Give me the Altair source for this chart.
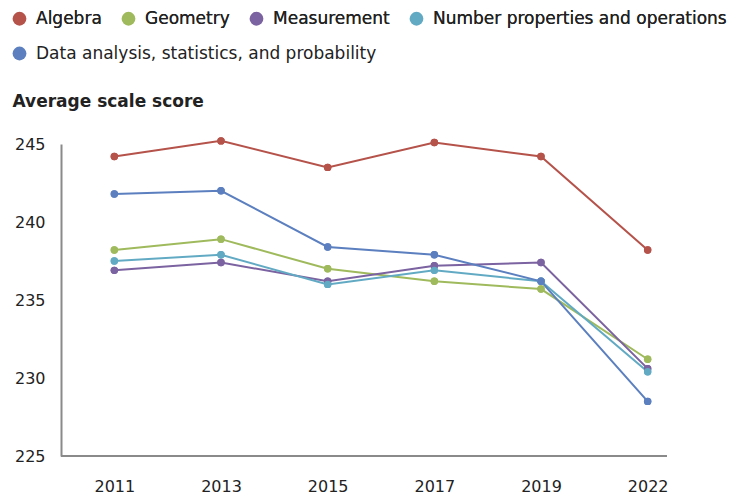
import altair as alt
import pandas as pd

years = ["2011", "2013", "2015", "2017", "2019", "2022"]
series_names = [
    "Algebra",
    "Geometry",
    "Measurement",
    "Number properties and operations",
    "Data analysis, statistics, and probability",
]
colors = ["#b5524a", "#9fba5c", "#7b62a0", "#62aac4", "#5b7fbf"]

algebra = [244.2, 245.2, 243.5, 245.1, 244.2, 238.2]
geometry = [238.2, 238.9, 237.0, 236.2, 235.7, 231.2]
measurement = [236.9, 237.4, 236.2, 237.2, 237.4, 230.6]
number_ops = [237.5, 237.9, 236.0, 236.9, 236.2, 230.4]
data_analysis = [241.8, 242.0, 238.4, 237.9, 236.2, 228.5]

all_values = [algebra, geometry, measurement, number_ops, data_analysis]
rows = []
for name, vals in zip(series_names, all_values):
    for yr, v in zip(years, vals):
        rows.append({"year": yr, "series": name, "series2": name, "score": v})
df = pd.DataFrame(rows)

FONT = "DejaVu Sans"
TXT = "#222222"

legend_common = dict(title=None, orient="none", direction="horizontal",
                     symbolType="circle", symbolSize=190,
                     symbolOpacity=1, symbolStrokeWidth=0,
                     labelFontSize=17, labelColor=TXT, labelFont=FONT,
                     labelOffset=8, columnPadding=18, labelLimit=400)

x = alt.X("year:O", sort=years, scale=alt.Scale(type="point", padding=0.5),
          axis=alt.Axis(title=None, domain=False, ticks=False, labelAngle=0,
                        labelFontSize=16, labelColor=TXT, labelFont=FONT,
                        labelPadding=22))
y = alt.Y("score:Q", scale=alt.Scale(domain=[225, 245], nice=False, zero=False),
          axis=alt.Axis(values=[225, 230, 235, 240, 245], grid=False, ticks=False,
                        domainColor="#8a8a8a", domainWidth=2,
                        labelFontSize=16, labelColor=TXT, labelFont=FONT,
                        labelPadding=16,
                        title="Average scale score", titleAngle=0, titleAlign="left",
                        titleBaseline="middle", titleX=-49, titleY=-43,
                        titleFontSize=17, titleFontWeight="bold", titleColor=TXT,
                        titleFont=FONT))
color = alt.Color("series:N", sort=series_names,
                  scale=alt.Scale(domain=series_names, range=colors),
                  legend=alt.Legend(values=series_names[:4], legendX=-50, legendY=-134,
                                    **legend_common))
fill2 = alt.Fill("series2:N", sort=series_names,
                 scale=alt.Scale(domain=series_names, range=colors),
                 legend=alt.Legend(values=series_names[4:], legendX=-50, legendY=-99,
                                   **legend_common))

base = alt.Chart(df).encode(x=x, y=y, color=color, detail="series:N")
lines = base.mark_line(strokeWidth=2)
points = base.mark_circle(size=55, opacity=1)
points2 = alt.Chart(df).mark_circle(size=55, opacity=1).encode(x=x, y=y, fill=fill2)

axis_line = alt.Chart(pd.DataFrame({"a": [0]})).mark_rule(color="#8a8a8a", strokeWidth=2).encode(
    x=alt.value(0), x2=alt.value(606), y=alt.value(312)
)

chart = alt.layer(lines, points, points2, axis_line).resolve_legend(
    color="independent", fill="independent"
).properties(
    width=640, height=312,
    autosize=alt.AutoSizeParams(type="none"),
    padding={"left": 53, "top": 136, "right": 30, "bottom": 40},
).configure_view(stroke=None)

chart.save("out.html", embed_options={"renderer": "svg", "actions": False})
